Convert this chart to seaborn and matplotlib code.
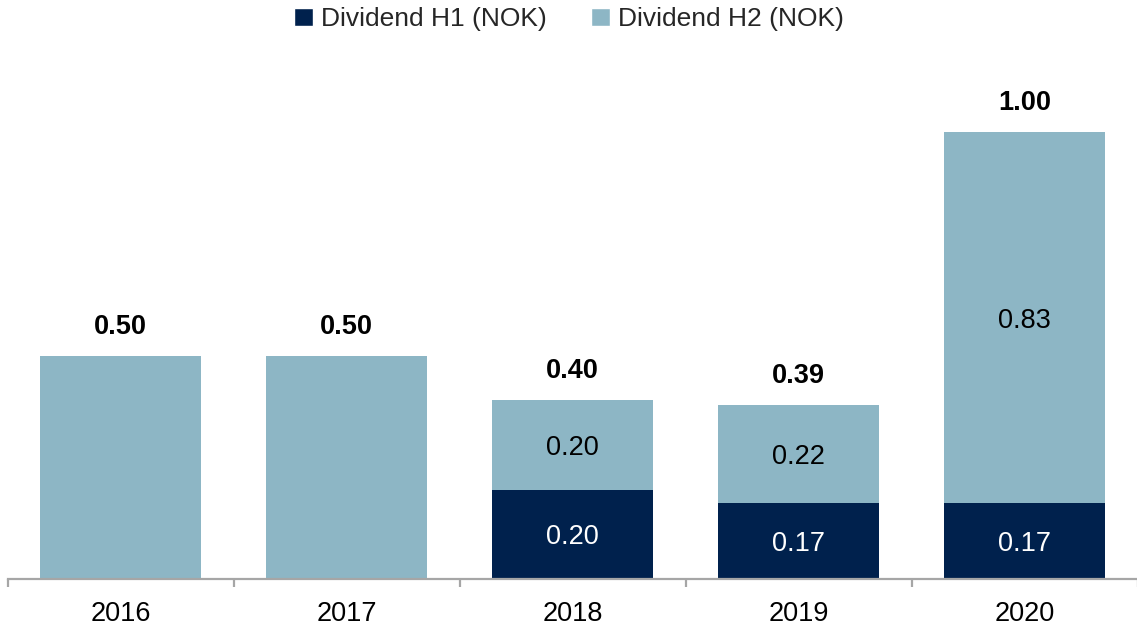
import matplotlib
matplotlib.use("Agg")
import matplotlib.pyplot as plt
import seaborn as sns
import numpy as np
from matplotlib.patches import Patch

years = ["2016", "2017", "2018", "2019", "2020"]
h1 = [0.00, 0.00, 0.20, 0.17, 0.17]
h2 = [0.50, 0.50, 0.20, 0.22, 0.83]
totals = [0.50, 0.50, 0.40, 0.39, 1.00]

dark = "#00214d"
light = "#8db6c5"
fs = 19.5

sns.set_theme(style="white")
plt.rcParams["font.family"] = ["Liberation Sans", "DejaVu Sans"]

fig = plt.figure(figsize=(11.37, 6.27), dpi=100)
ax = fig.add_axes([7.5 / 1137, 48 / 627, 1130 / 1137, 1.1 * 447 / 627])

# stacked bars: full total in the light colour, H1 part overlaid in dark
sns.barplot(x=years, y=totals, color=light, width=0.712, saturation=1,
            linewidth=0, ax=ax)
sns.barplot(x=years, y=h1, color=dark, width=0.712, saturation=1,
            linewidth=0, ax=ax)

ax.set_xlim(-0.5, 4.5)
ax.set_ylim(0, 1.1)

for i in range(len(years)):
    if h1[i] > 0:
        ax.text(i, h1[i] / 2, f"{h1[i]:.2f}", ha="center", va="center_baseline",
                color="white", fontsize=fs)
        ax.text(i, h1[i] + h2[i] / 2, f"{h2[i]:.2f}", ha="center",
                va="center_baseline", color="black", fontsize=fs)
    ax.annotate(f"{totals[i]:.2f}", xy=(i, totals[i]), xytext=(0, 32),
                textcoords="offset pixels", ha="center", va="center_baseline",
                fontsize=fs, fontweight="bold", color="black")

for side in ["top", "right", "left"]:
    ax.spines[side].set_visible(False)
ax.spines["bottom"].set_color("#a6a6a6")
ax.spines["bottom"].set_linewidth(1.6)
ax.set_yticks([])
ax.set_xticks(np.arange(-0.5, 5.0, 1.0), minor=True)
ax.tick_params(axis="x", which="minor", length=5.5, width=1.6,
               color="#a6a6a6", direction="out", bottom=True)
ax.tick_params(axis="x", which="major", length=0, pad=16,
               labelsize=fs, labelcolor="black")
ax.set_xlabel("")
ax.set_ylabel("")

handles = [Patch(facecolor=dark, label="Dividend H1 (NOK)"),
           Patch(facecolor=light, label="Dividend H2 (NOK)")]
fig.legend(handles=handles, loc="center", bbox_to_anchor=(569 / 1137, 1 - 19 / 627),
           ncol=2, frameon=False, fontsize=19, handlelength=0.7, handleheight=0.7,
           handletextpad=0.3, columnspacing=1.7, borderaxespad=0)

fig.savefig("out.png", dpi=100)
